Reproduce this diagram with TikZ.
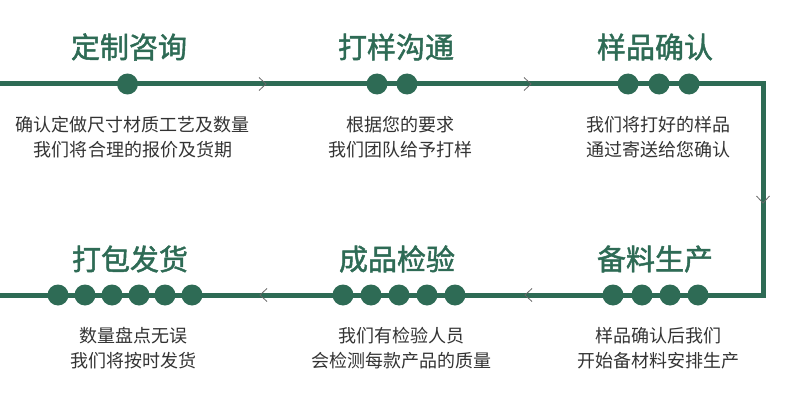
\documentclass[tikz,border=0pt]{standalone}
\usepackage{fontspec}
\setmainfont{Noto Sans CJK SC}
\newfontfamily\headfont[FakeBold=1.6]{Noto Sans CJK SC}
\usetikzlibrary{decorations.markings}
\definecolor{pine}{HTML}{2E6B55}
\definecolor{ink}{HTML}{333333}
\newcommand{\chev}{\draw[line width=0.8pt, gray!80!black] (-4,-6.5) -- (3,0) -- (-4,6.5);}

\begin{document}
\begin{tikzpicture}[x=1pt, y=-1pt,
  title/.style={text=pine, inner sep=0pt, font=\headfont\fontsize{29}{32}\selectfont},
  desc/.style={text=ink, inner sep=0pt, align=center, font=\fontsize{18}{25}\selectfont},
  dot/.style={circle, fill=pine, minimum size=21pt, inner sep=0pt},
  flow/.style={draw=pine, line width=5pt, postaction={decorate},
    decoration={markings,
      mark=at position 263pt with {\chev},
      mark=at position 528pt with {\chev},
      mark=at position 879pt with {\chev},
      mark=at position 1209pt with {\chev},
      mark=at position 1474pt with {\chev}}}
]
  \useasboundingbox (0,0) rectangle (790,404);

  % the path round the six steps
  \coordinate (w1) at (0,84);
  \coordinate (ne) at (763,84);
  \coordinate (se) at (763,295);
  \coordinate (w2) at (0,295);
  \draw[flow] (w1) -- (ne) -- (se) -- (w2);

  % dots, one more for each step
  \node[dot] (s1d1) at (127.5,84) {};
  \foreach \x [count=\i] in {377,407} \node[dot] (s2d\i) at (\x,84) {};
  \foreach \x [count=\i] in {628,659,689} \node[dot] (s3d\i) at (\x,84) {};
  \foreach \x [count=\i] in {613,642,670,698} \node[dot] (s4d\i) at (\x,295) {};
  \foreach \x [count=\i] in {343,371,399,427,455} \node[dot] (s5d\i) at (\x,295) {};
  \foreach \x [count=\i] in {58,85,112,139,165,192} \node[dot] (s6d\i) at (\x,295) {};

  \node[title] (consult) at (129,47)  {定制咨询};
  \node[title] (sample)  at (396,47)  {打样沟通};
  \node[title] (confirm) at (655,47)  {样品确认};
  \node[title] (produce) at (655,259) {备料生产};
  \node[title] (inspect) at (397,259) {成品检验};
  \node[title] (ship)    at (130,259) {打包发货};

  \node[desc] (consultd) at (133,137) {确认定做尺寸材质工艺及数量\\我们将合理的报价及货期};
  \node[desc] (sampled)  at (400,137) {根据您的要求\\我们团队给予打样};
  \node[desc] (confirmd) at (658,137) {我们将打好的样品\\通过寄送给您确认};
  \node[desc] (produced) at (658,348) {样品确认后我们\\开始备材料安排生产};
  \node[desc] (inspectd) at (401,348) {我们有检验人员\\会检测每款产品的质量};
  \node[desc] (shipd)    at (133,348) {数量盘点无误\\我们将按时发货};
\end{tikzpicture}
\end{document}
